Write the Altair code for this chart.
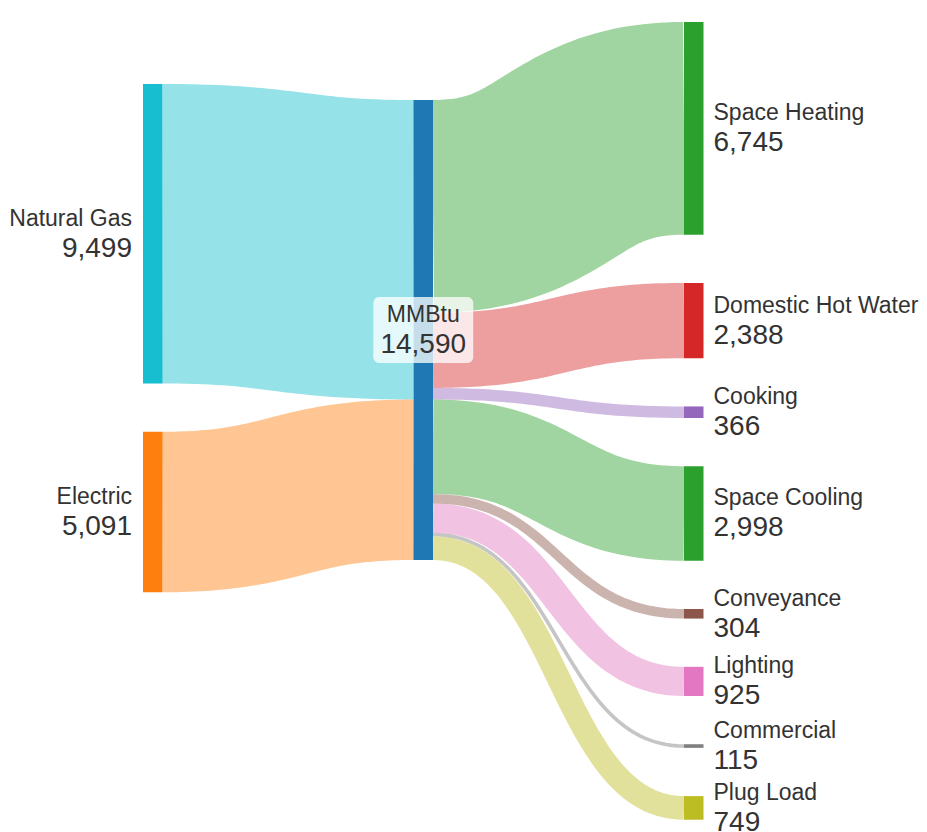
import altair as alt
import pandas as pd
import numpy as np

# ---------------- data ----------------
SOURCES = ["Natural Gas", "Electric"]
SOURCE_VALUES = [9499, 5091]
HUB = "MMBtu"
USES = ["Space Heating", "Domestic Hot Water", "Cooking", "Space Cooling",
        "Conveyance", "Lighting", "Commercial", "Plug Load"]
USE_VALUES = [6745, 2388, 366, 2998, 304, 925, 115, 749]
SOURCE_COLORS = ["#17becf", "#ff7f0e"]
HUB_COLOR = "#1f77b4"
USE_COLORS = ["#2ca02c", "#d62728", "#9467bd", "#2ca02c",
              "#8c564b", "#e377c2", "#7f7f7f", "#bcbd22"]

# ---------------- layout ----------------
W, H = 911, 824
PX_PER_UNIT = 0.03153
Y_TOP = -14 / PX_PER_UNIT
Y_BOTTOM = Y_TOP + H / PX_PER_UNIT
STAGE_PX = 270.5
X0_PX = 135
X_MIN = -X0_PX / STAGE_PX
X_MAX = X_MIN + W / STAGE_PX
NODE_W = 19.5 / STAGE_PX
GAP = 1530
LEFT_TOP = 1966
MID_TOP = 2474
RIGHT_TOP = 0
LINK_OPACITY = 0.45

hub_value = sum(SOURCE_VALUES)

nodes = []
y = LEFT_TOP
for n, v in zip(SOURCES, SOURCE_VALUES):
    nodes.append(dict(name=n, value=v, stage=0, y0=y, y1=y + v))
    y += v + GAP
nodes.append(dict(name=HUB, value=hub_value, stage=1, y0=MID_TOP, y1=MID_TOP + hub_value))
y = RIGHT_TOP
for n, v in zip(USES, USE_VALUES):
    nodes.append(dict(name=n, value=v, stage=2, y0=y, y1=y + v))
    y += v + GAP
nodes = pd.DataFrame(nodes)
nodes["x0"] = nodes["stage"]
nodes["x1"] = nodes["stage"] + NODE_W
nodes["xc"] = nodes["stage"] + NODE_W / 2
nodes["yc"] = (nodes["y0"] + nodes["y1"]) / 2

node_names = SOURCES + [HUB] + USES
node_colors = SOURCE_COLORS + [HUB_COLOR] + USE_COLORS
color_scale = alt.Scale(domain=node_names, range=node_colors)

# links as bezier centre lines
t = np.linspace(0, 1, 61)
rows = []


def add_link(lid, key, v, xa, ya, xb, yb):
    xm = (xa + xb) / 2
    xs = xa * (1 - t) ** 3 + 3 * xm * (1 - t) ** 2 * t + 3 * xm * (1 - t) * t ** 2 + xb * t ** 3
    ys = ya + (yb - ya) * (3 * t ** 2 - 2 * t ** 3)
    for xx, yy in zip(xs, ys):
        rows.append(dict(link=lid, key=key, value=v, x=xx, y=yy))


nd = nodes.set_index("name")
cum = 0
for n, v in zip(SOURCES, SOURCE_VALUES):
    add_link(n + "->hub", n, v, nd.loc[n, "x1"], nd.loc[n, "y0"] + v / 2,
             nd.loc[HUB, "x0"], MID_TOP + cum + v / 2)
    cum += v
cum = 0
for n, v in zip(USES, USE_VALUES):
    add_link("hub->" + n, n, v, nd.loc[HUB, "x1"], MID_TOP + cum + v / 2,
             nd.loc[n, "x0"], nd.loc[n, "y0"] + v / 2)
    cum += v
links = pd.DataFrame(rows)

xs = alt.Scale(domain=[X_MIN, X_MAX], nice=False, zero=False)
ys = alt.Scale(domain=[Y_TOP, Y_BOTTOM], nice=False, zero=False, reverse=True)
X = lambda f: alt.X(f, type="quantitative", scale=xs, axis=None)
Y = lambda f: alt.Y(f, type="quantitative", scale=ys, axis=None)

link_layer = alt.Chart(links).mark_line(strokeOpacity=LINK_OPACITY, strokeCap="butt").encode(
    x=X("x"), y=Y("y"),
    detail="link:N",
    color=alt.Color("key:N", scale=color_scale, legend=None),
    size=alt.Size("value:Q", scale=alt.Scale(domain=[0, hub_value], range=[0, hub_value * PX_PER_UNIT]),
                  legend=None),
    order="x:Q",
)

node_layer = alt.Chart(nodes).mark_rect().encode(
    x=X("x0"), x2="x1", y=Y("y0"), y2="y1",
    color=alt.Color("name:N", scale=color_scale, legend=None),
)

# hub label box
BOX_W_PX, BOX_H_PX = 100, 66
box = pd.DataFrame([dict(
    bx0=nd.loc[HUB, "xc"] - BOX_W_PX / 2 / STAGE_PX,
    bx1=nd.loc[HUB, "xc"] + BOX_W_PX / 2 / STAGE_PX,
    by0=nd.loc[HUB, "yc"] - BOX_H_PX / 2 / PX_PER_UNIT,
    by1=nd.loc[HUB, "yc"] + BOX_H_PX / 2 / PX_PER_UNIT,
)])
box_layer = alt.Chart(box).mark_rect(color="white", opacity=0.75, cornerRadius=6).encode(
    x=X("bx0"), x2="bx1", y=Y("by0"), y2="by1")

FONT = "Liberation Sans"
TXT = "#333333"
NAME_SIZE, VAL_SIZE = 23, 28


def labels(df, xfield, align, dx):
    base = alt.Chart(df)
    name = base.mark_text(align=align, baseline="alphabetic", dx=dx, dy=-8,
                          font=FONT, fontSize=NAME_SIZE, color=TXT).encode(
        x=X(xfield), y=Y("yc"), text="name:N")
    val = base.mark_text(align=align, baseline="alphabetic", dx=dx, dy=23,
                         font=FONT, fontSize=VAL_SIZE, color=TXT).encode(
        x=X(xfield), y=Y("yc"), text=alt.Text("value:Q", format=","))
    return name + val


left_lab = labels(nodes[nodes.stage == 0], "x0", "right", -11)
mid_lab = labels(nodes[nodes.stage == 1], "xc", "center", 0)
right_lab = labels(nodes[nodes.stage == 2], "x1", "left", 10)

chart = alt.layer(link_layer, node_layer, box_layer, left_lab, mid_lab, right_lab).properties(
    width=W, height=H, padding=0,
    autosize=alt.AutoSizeParams(type="none"),
    background="white",
).configure_view(stroke=None)

chart.save("out.html", embed_options={"renderer": "svg", "actions": False})
